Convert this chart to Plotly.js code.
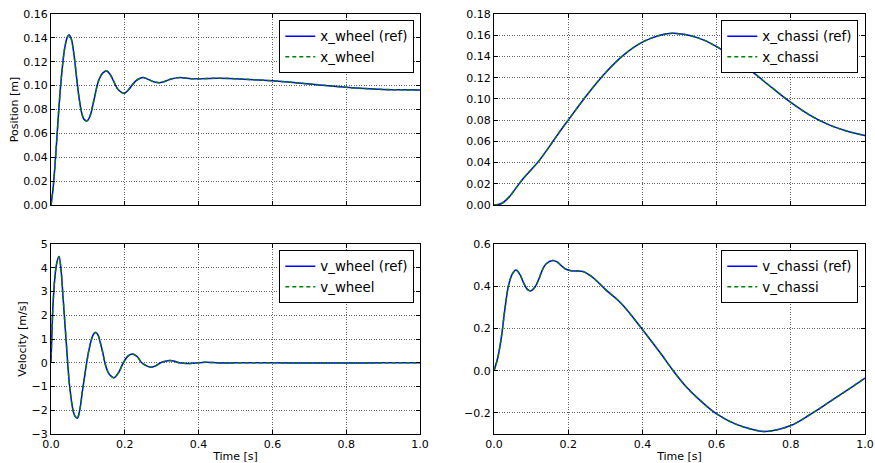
<!DOCTYPE html>
<html>
<head>
<meta charset="utf-8">
<script src="https://cdn.plot.ly/plotly-3.0.1.min.js"></script>
<style>html,body{margin:0;padding:0;background:#fff;}#chart{width:875px;height:463px;}</style>
</head>
<body>
<div id="chart"></div>
<script>
// ---- data ----
const tXWheel = [0,0.005,0.01,0.015,0.02,0.025,0.03,0.035,0.04,0.045,0.049,0.055,0.06,0.065,0.07,0.075,0.08,0.085,0.09,0.098,0.105,0.11,0.115,0.12,0.125,0.13,0.14,0.151,0.16,0.17,0.18,0.19,0.199,0.21,0.22,0.23,0.24,0.252,0.265,0.28,0.295,0.31,0.325,0.34,0.354,0.38,0.40,0.45,0.5,0.55,0.6,0.65,0.7,0.75,0.8,0.85,0.9,0.95,1.0];
const xWheel  = [0,0.012,0.030,0.052,0.075,0.096,0.113,0.127,0.136,0.141,0.1424,0.139,0.131,0.119,0.105,0.092,0.082,0.075,0.0715,0.0705,0.074,0.079,0.086,0.093,0.100,0.105,0.1105,0.1123,0.1095,0.1035,0.0975,0.0945,0.0937,0.0965,0.1005,0.104,0.106,0.1067,0.105,0.1031,0.1025,0.1037,0.1055,0.1065,0.1067,0.1058,0.1057,0.1062,0.1058,0.105,0.104,0.1028,0.1014,0.100,0.0986,0.0975,0.0968,0.0965,0.0963];

const tXChassi = [0,0.02,0.04,0.06,0.08,0.10,0.12,0.14,0.16,0.18,0.20,0.25,0.30,0.35,0.40,0.45,0.485,0.55,0.60,0.65,0.70,0.75,0.80,0.85,0.90,0.95,1.0];
const xChassi  = [0,0.0014,0.0072,0.0164,0.0254,0.0332,0.0411,0.0505,0.0605,0.0705,0.080,0.1035,0.1245,0.1415,0.1535,0.1603,0.1618,0.1575,0.1493,0.1378,0.1245,0.1103,0.0967,0.085,0.076,0.0698,0.0655];

const tVWheel = [0,0.003,0.006,0.01,0.015,0.0217,0.027,0.0316,0.0361,0.0407,0.0452,0.0506,0.0596,0.065,0.0714,0.075,0.08,0.085,0.09,0.0967,0.103,0.11,0.116,0.121,0.127,0.1335,0.14,0.146,0.152,0.158,0.1707,0.183,0.196,0.2085,0.221,0.234,0.246,0.259,0.272,0.285,0.297,0.31,0.3225,0.335,0.347,0.36,0.372,0.385,0.397,0.41,0.422,0.435,0.447,0.47,0.5,0.6,0.7,0.8,0.9,1.0];
const vWheel  = [0,1.5,2.6,3.5,4.15,4.47,3.95,3.0,2.0,1.0,0.0,-1.0,-2.0,-2.25,-2.34,-2.2,-1.8,-1.2,-0.7,0.0,0.55,1.0,1.22,1.27,1.18,0.85,0.45,0.0,-0.3,-0.48,-0.63,-0.42,0.0,0.28,0.37,0.25,0.0,-0.13,-0.185,-0.12,0.0,0.065,0.09,0.06,0.0,-0.025,-0.035,-0.02,0.0,0.015,0.02,0.012,0.0,-0.008,-0.005,-0.004,-0.01,-0.01,-0.005,-0.002];

const tVChassi = [0,0.01,0.02,0.03,0.04,0.05,0.059,0.07,0.08,0.09,0.099,0.11,0.12,0.13,0.14,0.158,0.17,0.18,0.19,0.205,0.22,0.24,0.26,0.28,0.30,0.33,0.35,0.40,0.45,0.483,0.52,0.56,0.60,0.65,0.70,0.726,0.75,0.80,0.85,0.90,0.95,1.0];
const vChassi  = [0,0.06,0.16,0.30,0.41,0.46,0.477,0.455,0.415,0.385,0.378,0.395,0.43,0.475,0.505,0.522,0.515,0.50,0.485,0.474,0.472,0.470,0.45,0.42,0.385,0.34,0.305,0.195,0.08,0.0,-0.08,-0.148,-0.205,-0.252,-0.28,-0.288,-0.285,-0.26,-0.21,-0.153,-0.095,-0.035];

const xTickVals = [0,0.2,0.4,0.6,0.8,1.0];
const xTickText = ['0.0','0.2','0.4','0.6','0.8','1.0'];

// ---- styling ----
const FONT = 'DejaVu Sans, sans-serif';
const blue = '#0000ff', green = '#008000';
function refTrace(x, y, name, xa, ya, lg) {
  return {x, y, name, xaxis: xa, yaxis: ya, legend: lg, type: 'scatter', mode: 'lines',
          line: {color: blue, width: 1.5, shape: 'spline', smoothing: 1}};
}
function simTrace(x, y, name, xa, ya, lg) {
  return {x, y, name, xaxis: xa, yaxis: ya, legend: lg, type: 'scatter', mode: 'lines',
          line: {color: green, width: 1.5, dash: '4px,3px', shape: 'spline', smoothing: 1}};
}
const data = [
  refTrace(tXWheel, xWheel, 'x_wheel (ref)', 'x', 'y', 'legend'),
  simTrace(tXWheel, xWheel, 'x_wheel', 'x', 'y', 'legend'),
  refTrace(tXChassi, xChassi, 'x_chassi (ref)', 'x2', 'y2', 'legend2'),
  simTrace(tXChassi, xChassi, 'x_chassi', 'x2', 'y2', 'legend2'),
  refTrace(tVWheel, vWheel, 'v_wheel (ref)', 'x3', 'y3', 'legend3'),
  simTrace(tVWheel, vWheel, 'v_wheel', 'x3', 'y3', 'legend3'),
  refTrace(tVChassi, vChassi, 'v_chassi (ref)', 'x4', 'y4', 'legend4'),
  simTrace(tVChassi, vChassi, 'v_chassi', 'x4', 'y4', 'legend4')
];

const W = 875, H = 463;
const dxL = [51/W, 420/W], dxR = [494/W, 865/W];
const dyT = [(H-205)/H, (H-14)/H], dyB = [(H-434)/H, (H-244)/H];
const GRID = {showgrid: true, gridcolor: 'rgba(0,0,0,0.6)', gridwidth: 1, griddash: '1px,1.5px'};

function xAxis(domain, anchor, labels) {
  return Object.assign({domain, anchor, range: [0, 1], tickvals: xTickVals, ticktext: xTickText,
          showticklabels: labels, ticks: 'inside', ticklen: 4, tickcolor: '#000',
          showline: true, linecolor: '#000', linewidth: 1, mirror: 'ticks',
          zeroline: false, tickfont: {family: FONT, size: 11, color: '#000'},
          title: labels ? {text: 'Time [s]', font: {family: FONT, size: 11, color: '#000'}, standoff: 2} : {text: ''}}, GRID);
}
function yAxis(domain, anchor, range, dtick, fmt, title) {
  return Object.assign({domain, anchor, range, dtick, tick0: 0, tickformat: fmt,
          ticks: 'inside', ticklen: 4, tickcolor: '#000',
          showline: true, linecolor: '#000', linewidth: 1, mirror: 'ticks',
          zeroline: false, tickfont: {family: FONT, size: 11, color: '#000'},
          title: {text: title, font: {family: FONT, size: 11, color: '#000'}, standoff: 2}}, GRID);
}
function legendAt(xr, yt) {
  return {x: xr, y: yt, xanchor: 'right', yanchor: 'top', bgcolor: '#fff',
          bordercolor: '#000', borderwidth: 1, font: {family: FONT, size: 13.4, color: '#000'},
          tracegroupgap: 0, itemwidth: 30};
}

const layout = {
  width: W, height: H, margin: {l: 0, r: 0, t: 0, b: 0},
  paper_bgcolor: '#fff', plot_bgcolor: '#fff', showlegend: true,
  font: {family: FONT, color: '#000'},
  xaxis: xAxis(dxL, 'y', false),
  yaxis: yAxis(dyT, 'x', [0, 0.16], 0.02, '.2f', 'Position [m]'),
  xaxis2: xAxis(dxR, 'y2', false),
  yaxis2: yAxis(dyT, 'x2', [0, 0.18], 0.02, '.2f', ''),
  xaxis3: xAxis(dxL, 'y3', true),
  yaxis3: yAxis(dyB, 'x3', [-3, 5], 1, 'd', 'Velocity [m/s]'),
  xaxis4: xAxis(dxR, 'y4', true),
  yaxis4: yAxis(dyB, 'x4', [-0.3, 0.6], 0.2, '.1f', ''),
  legend: legendAt(414.3/W, (H-20)/H),
  legend2: legendAt(858.3/W, (H-20)/H),
  legend3: legendAt(414.3/W, (H-250)/H),
  legend4: legendAt(858.3/W, (H-250)/H)
};

Plotly.newPlot('chart', data, layout, {staticPlot: true, displayModeBar: false});
</script>
</body>
</html>
